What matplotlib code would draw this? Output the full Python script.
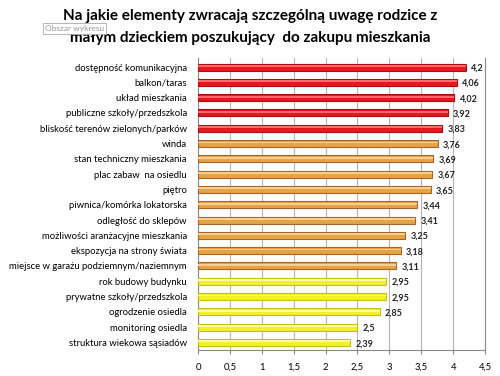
import matplotlib.pyplot as plt
import numpy as np

plt.rcParams['font.family'] = ['Lato', 'DejaVu Sans']

categories = [
    "dostępność komunikacyjna",
    "balkon/taras",
    "układ mieszkania",
    "publiczne szkoły/przedszkola",
    "bliskość terenów zielonych/parków",
    "winda",
    "stan techniczny mieszkania",
    "plac zabaw  na osiedlu",
    "piętro",
    "piwnica/komórka lokatorska",
    "odległość do sklepów",
    "możliwości aranżacyjne mieszkania",
    "ekspozycja na strony świata",
    "miejsce w garażu podziemnym/naziemnym",
    "rok budowy budynku",
    "prywatne szkoły/przedszkola",
    "ogrodzenie osiedla",
    "monitoring osiedla",
    "struktura wiekowa sąsiadów",
]
values = [4.2, 4.06, 4.02, 3.92, 3.83, 3.76, 3.69, 3.67, 3.65, 3.44,
          3.41, 3.25, 3.18, 3.11, 2.95, 2.95, 2.85, 2.5, 2.39]
value_labels = ["4,2", "4,06", "4,02", "3,92", "3,83", "3,76", "3,69", "3,67",
                "3,65", "3,44", "3,41", "3,25", "3,18", "3,11", "2,95", "2,95",
                "2,85", "2,5", "2,39"]
groups = ["red"] * 5 + ["orange"] * 9 + ["yellow"] * 5

xticks = [0, 0.5, 1, 1.5, 2, 2.5, 3, 3.5, 4, 4.5]
xtick_labels = ["0", "0,5", "1", "1,5", "2", "2,5", "3", "3,5", "4", "4,5"]
title_lines = ["Na jakie elementy zwracają szczególną uwagę rodzice z",
               "małym dzieckiem poszukujący  do zakupu mieszkania"]

main = {"red": "#e8161e", "orange": "#e6a445", "yellow": "#f2f02a"}
dark = {"red": "#b00c12", "orange": "#a8642a", "yellow": "#c8c010"}
light = {"red": "#ff6a6a", "orange": "#f8d090", "yellow": "#fcfca0"}

fig = plt.figure(figsize=(5, 3.76), dpi=100)
ax = fig.add_axes([0.396, 0.069, 0.574, 0.777])

y = np.arange(len(categories))
ax.barh(y, values, height=0.46, color=[main[g] for g in groups],
        edgecolor=[dark[g] for g in groups], linewidth=0.8, zorder=3)
ax.barh(y - 0.07, values, height=0.12, color=[light[g] for g in groups],
        linewidth=0, zorder=4)

for yi, v, lab in zip(y, values, value_labels):
    ax.text(v + 0.08, yi + 0.08, lab, va="center", ha="left", fontsize=6.5,
            fontweight="bold", color="#222222")

ax.set_xlim(0, 4.5)
ax.set_ylim(len(categories) - 0.5, -0.6)
ax.set_yticks(y)
ax.set_yticklabels(categories, fontsize=6.8)
ax.set_xticks(xticks)
ax.set_xticklabels(xtick_labels, fontsize=6.8)
ax.xaxis.grid(True, color="#b4b4b4", linewidth=0.8, zorder=0)
ax.tick_params(axis="y", length=0, pad=8)
ax.tick_params(axis="x", length=3, color="#888888", pad=6)
ax.spines["top"].set_visible(False)
for side in ["left", "right", "bottom"]:
    ax.spines[side].set_color("#888888")

fig.text(0.5, 0.947, title_lines[0], ha="center", va="baseline",
         fontsize=11, fontweight="bold")
fig.text(0.5, 0.888, title_lines[1], ha="center", va="baseline",
         fontsize=11, fontweight="bold")
fig.text(0.09, 0.925, "Obszar wykresu", fontsize=6, color="#999999", va="center",
         bbox=dict(boxstyle="square,pad=0.25", fc="white", ec="#aaaaaa", lw=0.6))

fig.savefig("out.png", dpi=100)
